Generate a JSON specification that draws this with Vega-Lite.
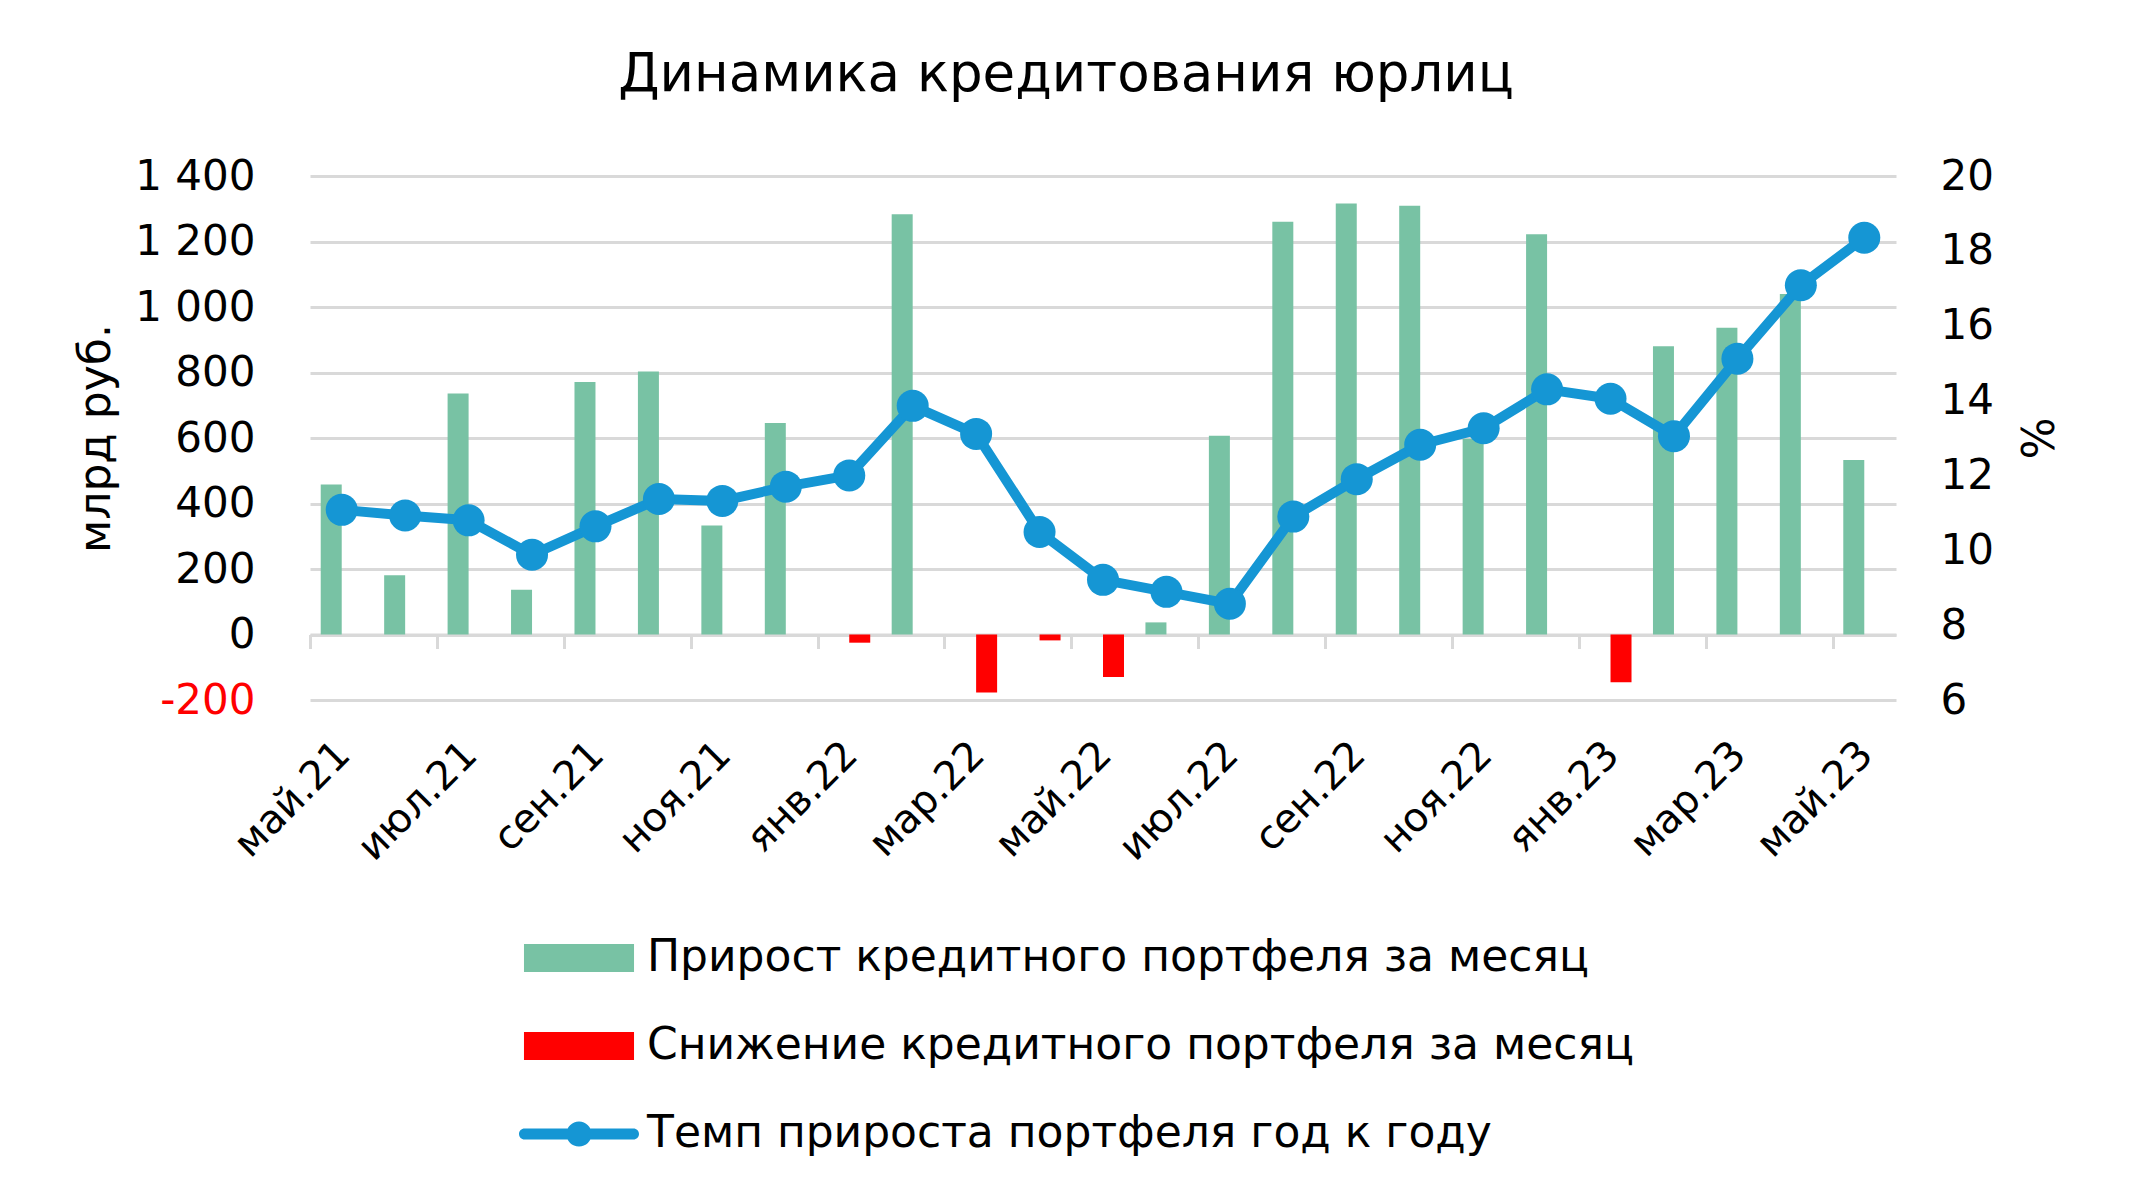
{
  "$schema": "https://vega.github.io/schema/vega-lite/v6.json",
  "width": 1586,
  "height": 524,
  "autosize": "none",
  "padding": {"left": 310, "top": 176, "right": 238, "bottom": 500},
  "background": "white",
  "config": {"font": "DejaVu Sans", "view": {"stroke": null}},
  "title": {"text": "Динамика кредитования юрлиц", "fontSize": 53, "fontWeight": "normal", "color": "black", "offset": 53, "dx": -37, "anchor": "middle"},
  "data": {"values": [
    {"month": "май.21", "value": 458, "series": "Прирост кредитного портфеля за месяц", "pct": 11.08},
    {"month": "июн.21", "value": 181, "series": "Прирост кредитного портфеля за месяц", "pct": 10.93},
    {"month": "июл.21", "value": 736, "series": "Прирост кредитного портфеля за месяц", "pct": 10.80},
    {"month": "авг.21", "value": 137, "series": "Прирост кредитного портфеля за месяц", "pct": 9.88},
    {"month": "сен.21", "value": 771, "series": "Прирост кредитного портфеля за месяц", "pct": 10.64},
    {"month": "окт.21", "value": 803, "series": "Прирост кредитного портфеля за месяц", "pct": 11.37},
    {"month": "ноя.21", "value": 333, "series": "Прирост кредитного портфеля за месяц", "pct": 11.32},
    {"month": "дек.21", "value": 646, "series": "Прирост кредитного портфеля за месяц", "pct": 11.70},
    {"month": "янв.22", "value": -25, "series": "Снижение кредитного портфеля за месяц", "pct": 12.00},
    {"month": "фев.22", "value": 1283, "series": "Прирост кредитного портфеля за месяц", "pct": 13.86},
    {"month": "мар.22", "value": -177, "series": "Снижение кредитного портфеля за месяц", "pct": 13.11},
    {"month": "апр.22", "value": -18, "series": "Снижение кредитного портфеля за месяц", "pct": 10.49},
    {"month": "май.22", "value": -130, "series": "Снижение кредитного портфеля за месяц", "pct": 9.21},
    {"month": "июн.22", "value": 37, "series": "Прирост кредитного портфеля за месяц", "pct": 8.89},
    {"month": "июл.22", "value": 607, "series": "Прирост кредитного портфеля за месяц", "pct": 8.57},
    {"month": "авг.22", "value": 1260, "series": "Прирост кредитного портфеля за месяц", "pct": 10.90},
    {"month": "сен.22", "value": 1316, "series": "Прирост кредитного портфеля за месяц", "pct": 11.90},
    {"month": "окт.22", "value": 1309, "series": "Прирост кредитного портфеля за месяц", "pct": 12.82},
    {"month": "ноя.22", "value": 598, "series": "Прирост кредитного портфеля за месяц", "pct": 13.26},
    {"month": "дек.22", "value": 1222, "series": "Прирост кредитного портфеля за месяц", "pct": 14.30},
    {"month": "янв.23", "value": -146, "series": "Снижение кредитного портфеля за месяц", "pct": 14.05},
    {"month": "фев.23", "value": 880, "series": "Прирост кредитного портфеля за месяц", "pct": 13.05},
    {"month": "мар.23", "value": 937, "series": "Прирост кредитного портфеля за месяц", "pct": 15.12},
    {"month": "апр.23", "value": 1040, "series": "Прирост кредитного портфеля за месяц", "pct": 17.08},
    {"month": "май.23", "value": 533, "series": "Прирост кредитного портфеля за месяц", "pct": 18.35}
  ]},
  "layer": [
    {
      "mark": {"type": "bar"},
      "encoding": {
        "x": {"field": "month", "type": "ordinal", "sort": null,
          "scale": {"paddingInner": 0.338, "paddingOuter": 0.169},
          "axis": {"orient": "bottom", "values": ["май.21", "июл.21", "сен.21", "ноя.21", "янв.22", "мар.22", "май.22", "июл.22", "сен.22", "ноя.22", "янв.23", "мар.23", "май.23"],
            "labelAngle": -45, "labelFontSize": 40, "labelPadding": 34, "labelOffset": -12, "labelColor": "black", "labelOverlap": false,
            "domain": false, "ticks": false, "grid": false, "title": null}},
        "xOffset": {"field": "series", "type": "nominal", "scale": {"domain": ["Прирост кредитного портфеля за месяц", "Снижение кредитного портфеля за месяц"], "paddingInner": 0, "paddingOuter": 0}},
        "y": {"field": "value", "type": "quantitative",
          "scale": {"domain": [-200, 1400], "nice": false, "zero": true},
          "axis": {"orient": "left", "values": [-200, 0, 200, 400, 600, 800, 1000, 1200, 1400],
            "grid": true, "gridColor": "#d9d9d9", "gridWidth": 3, "domain": false, "ticks": false,
            "labelFontSize": 42, "labelPadding": 55,
            "labelColor": {"condition": {"test": "datum.value < 0", "value": "#ff0000"}, "value": "#000000"},
            "labelExpr": "datum.value >= 1000 ? '1 ' + format(datum.value - 1000, '03d') : '' + datum.value",
            "title": "млрд руб.", "titleFontSize": 44, "titleFontWeight": "normal", "titleColor": "black", "titlePadding": 16}},
        "color": {"field": "series", "type": "nominal",
          "scale": {"domain": ["Прирост кредитного портфеля за месяц", "Снижение кредитного портфеля за месяц", "Темп прироста портфеля год к году"], "range": ["#78c2a4", "#ff0000", "#1596d4"]},
          "legend": {"orient": "none", "legendX": 209, "legendY": 722, "direction": "vertical", "title": null,
            "labelFontSize": 44, "labelColor": "black", "labelLimit": 2000, "symbolSize": 14400, "labelOffset": 8,
            "rowPadding": 6, "padding": 0,
            "encode": {"symbols": {"update": {
              "shape": {"signal": "datum.value === 'Темп прироста портфеля год к году' ? 'M-0.908,-0.092H0.908A0.092,0.092 0 0,1 0.908,0.092H-0.908A0.092,0.092 0 0,1 -0.908,-0.092Z M-0.21,0A0.21,0.21 0 1,1 0.21,0A0.21,0.21 0 1,1 -0.21,0Z' : 'M-0.917,-0.233H0.917V0.233H-0.917Z'"},
              "fill": {"signal": "scale('color', datum.value)"},
              "stroke": {"value": "transparent"},
              "strokeWidth": {"value": 0},
              "opacity": {"value": 1}}}}}}
      }
    },
    {
      "mark": {"type": "line", "strokeWidth": 10, "strokeJoin": "round", "point": {"filled": true, "size": 1024}},
      "encoding": {
        "x": {"field": "month", "type": "ordinal", "sort": null,
          "scale": {"paddingInner": 0.338, "paddingOuter": 0.169},
          "axis": {"orient": "bottom", "offset": -65.5, "values": ["май.21", "июл.21", "сен.21", "ноя.21", "янв.22", "мар.22", "май.22", "июл.22", "сен.22", "ноя.22", "янв.23", "мар.23", "май.23"],
            "labels": false, "domain": true, "domainColor": "#d9d9d9", "domainWidth": 3,
            "ticks": true, "tickColor": "#d9d9d9", "tickWidth": 3, "tickSize": 14, "tickOffset": -31.72,
            "grid": false, "title": null}},
        "y": {"field": "pct", "type": "quantitative",
          "scale": {"domain": [6, 20], "nice": false, "zero": false},
          "axis": {"orient": "right", "values": [6, 8, 10, 12, 14, 16, 18, 20], "grid": false, "domain": false, "ticks": false,
            "labelFontSize": 42, "labelColor": "black", "labelPadding": 44,
            "title": "%", "titleFontSize": 44, "titleFontWeight": "normal", "titleColor": "black", "titlePadding": 18}},
        "color": {"datum": "Темп прироста портфеля год к году"}
      }
    }
  ],
  "resolve": {"scale": {"y": "independent"}, "axis": {"x": "independent"}}
}
